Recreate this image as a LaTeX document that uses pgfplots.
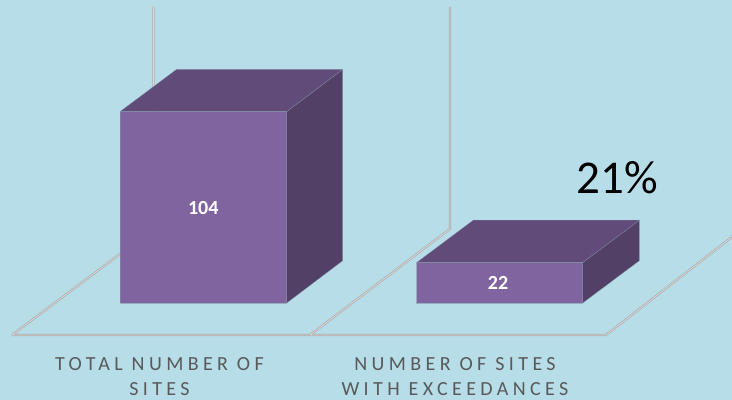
\documentclass[border=0pt]{standalone}
\usepackage{fontspec}
\setmainfont{Carlito}
\newfontfamily\spaced[LetterSpace=22]{Carlito}
\usepackage{pgfplots}
\pgfplotsset{compat=1.18}
\definecolor{bg}{HTML}{B7DDE8}
\definecolor{front}{HTML}{8064A0}
\definecolor{topf}{HTML}{614B79}
\definecolor{sidef}{HTML}{524066}
\definecolor{edge}{HTML}{7F8FA6}
\definecolor{lab}{HTML}{595959}
\begin{document}
\begin{tikzpicture}
\begin{axis}[
  scale only axis, width=732pt, height=400pt,
  xmin=0, xmax=732, ymin=-52.72, ymax=164.67,
  axis lines=none,
  clip=true,
  floor/.style={draw=black!33, line width=2.2pt, line join=bevel, postaction={draw=white!85!black, line width=0.8pt}},
  face/.style={line width=0.5pt, draw=edge, draw opacity=0.6, line join=round},
]
% background
\addplot[fill=bg, draw=none] coordinates {(0,-52.72) (732,-52.72) (732,164.67) (0,164.67)} -- cycle;
% floor and walls
\addplot[floor] coordinates {(153.5,160.9) (153.5,40.3) (12,-17.4) (310,-17.4)};
\addplot[floor] coordinates {(450,160.9) (450,40.3) (310,-17.4) (606,-17.4) (732,35.9)};
% bar 1: value 104
\addplot[face, fill=sidef] coordinates {(286.7,0) (342.7,23) (342.7,127) (286.7,104)} -- cycle;
\addplot[face, fill=topf] coordinates {(120,104) (176.7,127) (342.7,127) (286.7,104)} -- cycle;
\addplot[face, fill=front] coordinates {(120,0) (286.7,0) (286.7,104) (120,104)} -- cycle;
% bar 2: value 22
\addplot[face, fill=sidef] coordinates {(582.7,0) (639.3,23) (639.3,45) (582.7,22)} -- cycle;
\addplot[face, fill=topf] coordinates {(416.7,22) (473.3,45) (639.3,45) (582.7,22)} -- cycle;
\addplot[face, fill=front] coordinates {(416.7,0) (582.7,0) (582.7,22) (416.7,22)} -- cycle;
% text
\node[text=white, font=\fontsize{20}{22}\selectfont\bfseries] at (axis cs:203.3,51.6) {104};
\node[text=white, font=\fontsize{20}{22}\selectfont\bfseries] at (axis cs:498,10.8) {22};
\node[text=black, font=\fontsize{47}{52}\selectfont] at (axis cs:617,68.3) {21\%};
\node[text=lab, font=\fontsize{20}{25}\selectfont\spaced, align=center, anchor=north] at (axis cs:159.5,-27.6) {TOTAL NUMBER OF\\SITES};
\node[text=lab, font=\fontsize{20}{25}\selectfont\spaced, align=center, anchor=north] at (axis cs:455,-27.6) {NUMBER OF SITES\\WITH EXCEEDANCES};
\end{axis}
\end{tikzpicture}
\end{document}
